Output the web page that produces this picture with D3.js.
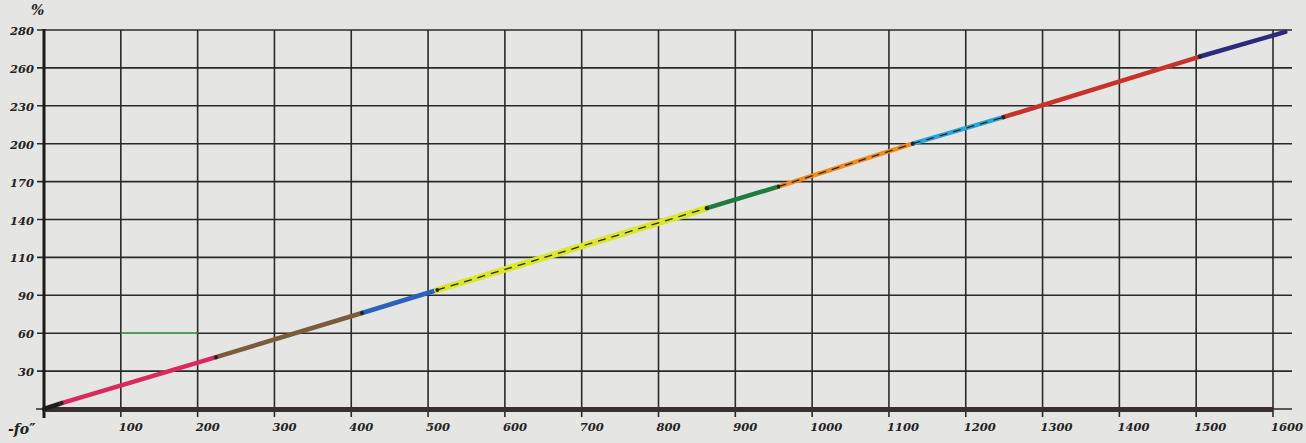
<!DOCTYPE html>
<html>
<head>
<meta charset="utf-8">
<script src="https://cdn.jsdelivr.net/npm/d3@7"></script>
<style>
	html, body { margin: 0; padding: 0; background: #e5e5e3; }
	svg { display: block; }
	.lbl { font-family: "DejaVu Serif", serif; font-style: italic; font-weight: bold; fill: #222; }
</style>
</head>
<body>
<svg id="chart" width="1306" height="443"></svg>
<script>

// x: time, y: percent as written on the sheet
const xTicks = [100, 200, 300, 400, 500, 600, 700, 800, 900, 1000, 1100, 1200, 1300, 1400, 1500, 1600];
const yTicks = [0, 30, 60, 90, 110, 140, 170, 200, 230, 260, 280];
const yLabels = ['30', '60', '90', '110', '140', '170', '200', '230', '260', '280'];

// breakpoints of the coloured curve
const curveX = [0, 23, 224, 414, 512, 863, 956, 1131, 1249, 1505, 1616];
const curveY = [0, 4.7, 41, 76, 92.8, 149, 166, 200, 221, 266, 279];
const segColors = ['#1e1c1c', '#d82a5c', '#7a5c3c', '#2b62bb', '#dbe62c', '#1f7c40', '#f08c1e', '#28a6da', '#c9322b', '#2c2a7a'];
const segDashed = [false, false, false, false, true, false, true, true, false, false];

// faint green mark on the 60 line
const greenMark = [[100, 60], [200, 60]];

const width = 1306, height = 443;
const svg = d3.select('#chart');

const x = d3.scaleLinear().domain([0, 1600]).range([44, 1273]);
// the sheet's gridlines are evenly spaced, labels are not
const y = d3.scaleLinear()
	.domain(yTicks)
	.range(yTicks.map((d, i) => 409 - i * 37.9));

const gridRight = 1292;

// horizontal grid
svg.append('g')
	.selectAll('line')
	.data(yTicks.slice(1))
	.enter()
	.append('line')
	.attr('x1', 37)
	.attr('x2', gridRight)
	.attr('y1', d => y(d))
	.attr('y2', d => y(d))
	.attr('stroke', '#2a2a2a')
	.attr('stroke-width', 1.6)

// vertical grid
svg.append('g')
	.selectAll('line')
	.data(xTicks)
	.enter()
	.append('line')
	.attr('x1', d => x(d))
	.attr('x2', d => x(d))
	.attr('y1', y(280))
	.attr('y2', 417)
	.attr('stroke', '#2a2a2a')
	.attr('stroke-width', 1.6)

// left axis
svg.append('line')
	.attr('x1', x(0)).attr('x2', x(0))
	.attr('y1', y(280) - 1).attr('y2', 418)
	.attr('stroke', '#1a1a1a')
	.attr('stroke-width', 3)

// baseline
svg.append('line')
	.attr('x1', 36).attr('x2', gridRight)
	.attr('y1', y(0)).attr('y2', y(0))
	.attr('stroke', '#2a2a2a')
	.attr('stroke-width', 1.6)
svg.append('line')
	.attr('x1', x(0)).attr('x2', x(1600))
	.attr('y1', y(0) + 0.5).attr('y2', y(0) + 0.5)
	.attr('stroke', '#3b3030')
	.attr('stroke-width', 5)

// y labels
svg.append('g')
	.selectAll('text')
	.data(yLabels)
	.enter()
	.append('text')
	.attr('class', 'lbl')
	.attr('x', 34)
	.attr('y', (d, i) => y(yTicks[i + 1]) + 5)
	.attr('text-anchor', 'end')
	.attr('font-size', 11.5)
	.text(d => d)

svg.append('text')
	.attr('class', 'lbl')
	.attr('x', 31)
	.attr('y', 15)
	.attr('font-size', 14)
	.text('%')

svg.append('text')
	.attr('class', 'lbl')
	.attr('x', 8)
	.attr('y', 434)
	.attr('font-size', 14)
	.text('-fo\u2033')

// x labels
svg.append('g')
	.selectAll('text')
	.data(xTicks)
	.enter()
	.append('text')
	.attr('class', 'lbl')
	.attr('x', d => x(d) - 2)
	.attr('y', 431)
	.attr('font-size', 11.5)
	.text(d => d)

// green mark
svg.append('path')
	.datum(greenMark)
	.attr('d', d3.line().x(d => x(d[0])).y(d => y(d[1])))
	.attr('stroke', '#3aa64a')
	.attr('stroke-width', 1.4)
	.attr('fill', 'none')

// curve segments
const line = d3.line().x(d => x(d[0])).y(d => y(d[1]));
const segs = segColors.map((c, i) => ({
	color: c,
	dashed: segDashed[i],
	pts: [[curveX[i], curveY[i]], [curveX[i + 1], curveY[i + 1]]]
}));

const curve = svg.append('g');

curve.selectAll('path.seg')
	.data(segs)
	.enter()
	.append('path')
	.attr('class', 'seg')
	.attr('d', d => line(d.pts))
	.attr('stroke', d => d.color)
	.attr('stroke-width', (d, i) => i == 4 ? 6.5 : 4.5)
	.attr('stroke-linecap', 'round')
	.attr('fill', 'none')

curve.selectAll('path.dash')
	.data(segs.filter(d => d.dashed))
	.enter()
	.append('path')
	.attr('class', 'dash')
	.attr('d', d => line(d.pts))
	.attr('stroke', '#2a2a1a')
	.attr('stroke-width', 1.3)
	.attr('stroke-dasharray', '8,6')
	.attr('fill', 'none')

// small dark ticks where colours change
curve.selectAll('circle')
	.data(curveX.slice(1, -1))
	.enter()
	.append('circle')
	.attr('cx', (d, i) => x(d))
	.attr('cy', (d, i) => y(curveY[i + 1]))
	.attr('r', 2)
	.attr('fill', '#222')

</script>
</body>
</html>
